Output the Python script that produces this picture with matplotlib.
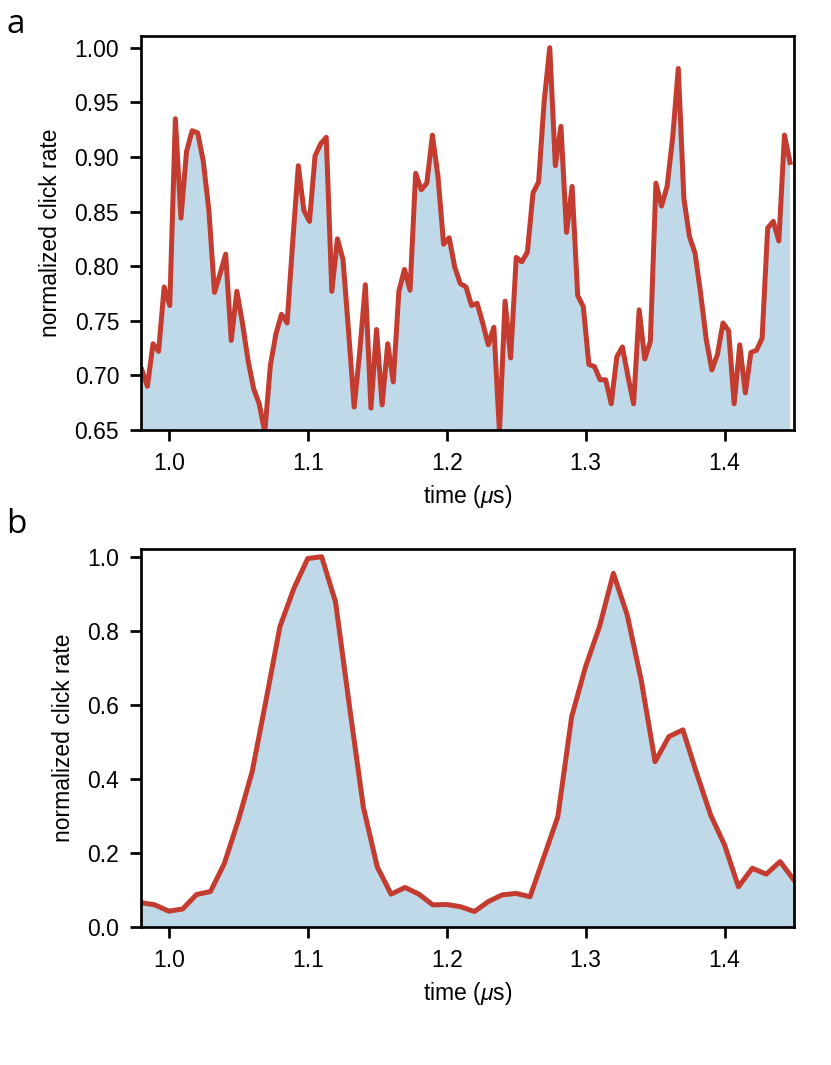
import matplotlib
matplotlib.use("Agg")
import matplotlib.pyplot as plt
import numpy as np

plt.rcParams["font.family"] = ["Liberation Sans", "DejaVu Sans"]
plt.rcParams["mathtext.fontset"] = "custom"
plt.rcParams["mathtext.it"] = "Liberation Sans:italic"
plt.rcParams["mathtext.rm"] = "Liberation Sans"
plt.rcParams["font.size"] = 11

# panel a: fine sampling (~4 ns)
a_t0 = 0.9806
a_step = 0.004022
a_rate = [
    0.705, 0.690, 0.729, 0.722, 0.781, 0.764, 0.935, 0.844, 0.905, 0.924,
    0.922, 0.896, 0.851, 0.776, 0.793, 0.811, 0.732, 0.777, 0.748, 0.714,
    0.688, 0.674, 0.648, 0.709, 0.738, 0.756, 0.748, 0.822, 0.892, 0.851,
    0.841, 0.901, 0.912, 0.918, 0.777, 0.825, 0.806, 0.740, 0.671, 0.722,
    0.783, 0.670, 0.742, 0.673, 0.729, 0.694, 0.777, 0.797, 0.778, 0.885,
    0.870, 0.876, 0.920, 0.882, 0.820, 0.826, 0.799, 0.784, 0.781, 0.764,
    0.766, 0.748, 0.728, 0.744, 0.648, 0.768, 0.716, 0.808, 0.804, 0.813,
    0.867, 0.877, 0.951, 1.000, 0.892, 0.928, 0.831, 0.873, 0.773, 0.763,
    0.710, 0.708, 0.696, 0.696, 0.674, 0.717, 0.726, 0.699, 0.674, 0.760,
    0.715, 0.731, 0.876, 0.855, 0.873, 0.918, 0.981, 0.862, 0.827, 0.812,
    0.775, 0.733, 0.705, 0.719, 0.748, 0.741, 0.674, 0.728, 0.684, 0.721,
    0.723, 0.734, 0.835, 0.841, 0.823, 0.920, 0.895,
]
a_time = a_t0 + a_step * np.arange(len(a_rate))

# panel b: coarse sampling (10 ns)
b_time = np.round(np.arange(0.98, 1.455, 0.01), 2)
b_rate = [
    0.065, 0.059, 0.042, 0.048, 0.087, 0.095, 0.171, 0.287, 0.419, 0.612,
    0.811, 0.914, 0.995, 1.000, 0.878, 0.597, 0.324, 0.162, 0.088, 0.106,
    0.088, 0.059, 0.060, 0.054, 0.041, 0.068, 0.086, 0.090, 0.081, 0.189,
    0.297, 0.568, 0.703, 0.811, 0.955, 0.842, 0.667, 0.446, 0.514, 0.532,
    0.414, 0.302, 0.221, 0.108, 0.158, 0.142, 0.176, 0.126,
]

line_color = "#C43C2F"
fill_color = "#C0D9E9"
W, H = 831, 1065
fig = plt.figure(figsize=(W / 150, H / 150), dpi=150)

ax_a = fig.add_axes([141 / W, 1 - 430 / H, 653 / W, 394.3 / H])
ax_b = fig.add_axes([141 / W, 1 - 926.7 / H, 653 / W, 377.4 / H])

for ax, t, r, ylim in [
    (ax_a, a_time, a_rate, (0.65, 1.011)),
    (ax_b, b_time, b_rate, (0.0, 1.02)),
]:
    ax.fill_between(t, r, 0, color=fill_color, lw=0)
    ax.plot(t, r, color=line_color, lw=2.4)
    ax.set_xlim(0.98, 1.45)
    ax.set_ylim(*ylim)
    ax.set_xticks([1.0, 1.1, 1.2, 1.3, 1.4])
    ax.set_xlabel(r"time ($\mu$s)")
    ax.set_ylabel("normalized click rate", labelpad=6)
    ax.tick_params(direction="out", length=5.5, width=1.3, pad=5)
    for s in ax.spines.values():
        s.set_linewidth(1.3)

ax_a.set_yticks([0.65, 0.70, 0.75, 0.80, 0.85, 0.90, 0.95, 1.00])
ax_a.set_yticklabels([f"{v:.2f}" for v in ax_a.get_yticks()])
ax_b.set_yticks([0.0, 0.2, 0.4, 0.6, 0.8, 1.0])

fig.text(6 / W, 1 - 33 / H, "a", family="Open Sans", fontsize=16, va="baseline")
fig.text(6 / W, 1 - 533 / H, "b", family="Open Sans", fontsize=16, va="baseline")

fig.savefig("out.png", dpi=150)
